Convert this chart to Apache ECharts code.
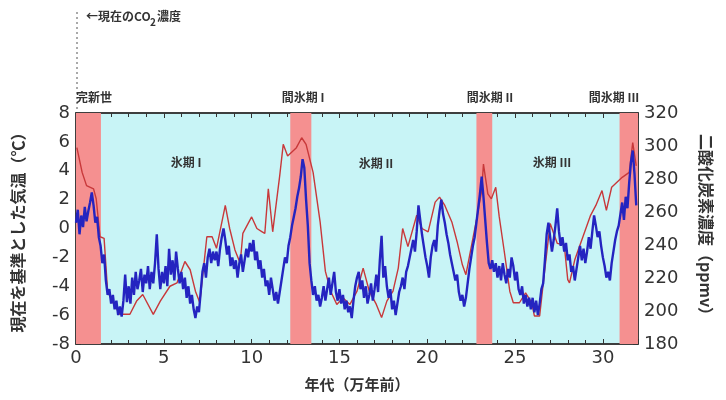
<!DOCTYPE html>
<html><head><meta charset="utf-8">
<script src="https://cdn.jsdelivr.net/npm/echarts@6/dist/echarts.min.js"></script>
<style>html,body{margin:0;padding:0;background:#fff}#c{width:726px;height:400px}</style>
</head><body><div id="c"></div>
<script>
// Temperature anomaly (°C), sampled every 0.1 (万年前) from 0.0 to 31.9
const ageStep = 0.1;
const tempValues = [
 0.4, 1.3, -0.4, 0.9, 0.1, 1.5, 0.5, 1.2, 1.8, 2.5,
 1.6, 0.4, 0.8, -0.6, -1.2, -2.4, -1.8, -3.6, -4.6, -4.2,
 -5.2, -4.6, -5.6, -5.0, -6.0, -5.4, -6.1, -5.0, -3.2, -5.1,
 -4.0, -5.2, -3.4, -4.6, -3.0, -4.2, -3.6, -2.8, -4.4, -3.2,
 -3.8, -2.6, -4.2, -3.0, -3.8, -2.4, -0.4, -2.8, -4.2, -3.0,
 -3.8, -2.6, -4.0, -1.4, -3.2, -2.2, -3.6, -1.6, -2.8, -3.8,
 -3.0, -4.2, -3.4, -4.8, -4.0, -5.2, -4.6, -5.6, -6.2, -5.4,
 -5.8, -4.4, -3.0, -2.4, -3.4, -2.0, -1.4, -2.4, -1.6, -2.2,
 -1.6, -2.6, -1.4, -0.6, 0.0, -0.8, -1.8, -1.2, -2.6, -2.0,
 -2.8, -2.2, -3.4, -2.4, -1.8, -3.0, -2.2, -1.4, -2.0, -1.0,
 -1.6, -0.8, -2.2, -1.6, -2.8, -2.2, -3.4, -2.8, -4.0, -3.6,
 -4.6, -3.4, -4.2, -5.0, -4.4, -5.2, -4.4, -3.6, -2.8, -2.0,
 -2.4, -1.2, -0.6, 0.2, 0.8, 1.4, 2.2, 2.8, 3.6, 4.8,
 4.2, 2.0, 0.2, -2.4, -3.6, -4.6, -4.0, -5.0, -4.6, -5.4,
 -4.8, -4.0, -5.0, -4.2, -3.4, -4.6, -3.8, -3.0, -4.4, -5.0,
 -4.2, -5.2, -4.6, -5.6, -5.0, -5.8, -5.4, -6.2, -5.0, -4.0,
 -3.4, -3.0, -4.2, -3.6, -4.8, -4.0, -5.2, -4.6, -3.8, -5.0,
 -4.2, -3.2, -4.4, -2.2, -0.5, -3.4, -2.6, -4.0, -4.8, -4.2,
 -5.6, -5.0, -6.0, -5.2, -4.4, -4.0, -3.4, -4.2, -3.0, -2.6,
 -2.0, -1.4, -0.8, -1.6, -0.2, 1.6, 0.6, -0.4, -1.2, -2.0,
 -2.6, -3.4, -2.0, -1.2, -0.8, -1.6, 0.2, 1.2, 2.0, 1.0,
 0.4, -0.4, -1.0, -1.8, -2.4, -3.0, -3.6, -3.2, -4.4, -5.0,
 -4.6, -5.4, -4.8, -3.8, -2.8, -2.0, -1.2, -0.6, 0.4, 1.4,
 2.4, 3.6, 2.2, 0.6, -1.0, -2.4, -2.8, -2.2, -3.0, -2.4,
 -3.4, -2.6, -3.6, -2.4, -3.2, -3.8, -2.8, -3.4, -2.0, -2.6,
 -3.6, -3.0, -4.2, -4.6, -4.0, -5.2, -4.6, -5.4, -4.8, -5.6,
 -4.8, -5.8, -5.0, -6.0, -5.2, -4.2, -3.8, -2.2, -0.4, 0.4,
 -0.6, -1.6, -0.8, 0.2, 1.4, -0.2, -1.2, -0.6, -1.6, -1.0,
 -2.2, -1.8, -3.0, -2.6, -3.6, -2.8, -2.0, -1.2, -2.2, -1.4,
 -2.4, -1.6, -0.6, -1.4, -0.2, 0.9, 0.2, -0.6, -0.2, -1.2,
 -2.0, -2.6, -3.4, -3.0, -3.6, -2.4, -1.6, -0.8, -0.2, 0.2,
 1.0, 1.8, 0.6, 2.2, 1.4, 3.2, 4.6, 5.4, 3.8, 1.6
];
// CO2 concentration (ppmv)
const co2Ages = [0.05,0.35,0.6,1.0,1.15,1.37,1.6,1.8,2.1,2.5,3.07,3.45,3.8,4.4,4.8,5.35,5.75,6.2,6.5,6.8,7.05,7.45,7.75,8.0,8.5,8.75,9.05,9.35,9.5,10.0,10.3,10.6,10.75,10.95,11.2,11.6,11.8,12.05,12.55,12.85,13.1,13.5,13.9,14.2,14.5,14.85,15.2,15.6,16.0,16.35,16.7,17.1,17.4,17.7,18.05,18.35,18.6,18.9,19.4,19.7,20.05,20.45,20.7,21.0,21.4,21.7,22.0,22.2,22.4,22.8,23.1,23.2,23.45,23.65,23.9,24.1,24.4,24.7,24.9,25.25,25.6,25.95,26.1,26.4,26.7,27.0,27.4,27.8,28.0,28.1,28.4,28.9,29.3,29.6,29.95,30.2,30.5,31.1,31.5,31.7,31.9];
const co2Values = [299,284,276,274,268,245,244,212,205,198,198,206,210,198,206,215,217,230,225,212,205,245,245,238,264,250,237,229,247,257,250,248,247,274,248,282,301,294,299,305,301,284,254,224,212,204,208,204,212,226,212,204,196,206,212,226,250,239,258,250,248,266,269,264,254,242,228,222,233,255,273,289,271,268,275,257,235,212,205,205,211,205,197,197,226,253,241,240,219,217,231,246,258,264,273,261,275,281,284,302,288];
// Interglacial bands (万年前)
const bands = [[0, 1.42], [12.2, 13.4], [22.8, 23.7], [30.95, 32]];
const bandLabels = ['完新世', '間氷期 I', '間氷期 II', '間氷期 III'];
const glacialLabels = ['氷期 I', '氷期 II', '氷期 III'];

const tempData = tempValues.map((v, i) => [+(i * ageStep).toFixed(2), v]);
const co2Data = co2Ages.map((a, i) => [a, co2Values[i]]);

const JP = '"Noto Sans CJK JP", "DejaVu Sans", sans-serif';
const chart = echarts.init(document.getElementById('c'), null, {renderer: 'canvas'});
const G = {left: 76, right: 88, top: 113, bottom: 56};
const axisLine = {show: true, onZero: false, lineStyle: {color: '#333', width: 1.5}};
const tick = {show: true, inside: true, length: 5, lineStyle: {color: '#333'}};
const minor = (n) => ({show: true, splitNumber: n, length: 4, lineStyle: {color: '#333'}});
const lbl = (o) => Object.assign({fontSize: 18, color: '#333', fontFamily: '"DejaVu Sans"'}, o);
const titleStyle = {fontSize: 15, fontWeight: 'bold', color: '#333', fontFamily: JP};
chart.setOption({
  animation: false,
  grid: Object.assign({show: true, backgroundColor: '#c8f4f6', borderColor: '#333', borderWidth: 1.5}, G),
  xAxis: [{
    type: 'value', min: 0, max: 32, interval: 5,
    axisLine: axisLine, axisTick: tick, minorTick: minor(5),
    splitLine: {show: false},
    axisLabel: lbl({margin: 5, showMaxLabel: false}),
    name: '年代（万年前）', nameLocation: 'middle', nameGap: 33, nameTextStyle: titleStyle
  }, {
    type: 'value', min: 0, max: 32, interval: 5, position: 'top',
    axisLine: axisLine, axisTick: tick, minorTick: minor(5),
    splitLine: {show: false}, axisLabel: {show: false}
  }],
  yAxis: [{
    type: 'value', min: -8, max: 8, interval: 2,
    axisLine: axisLine, axisTick: tick,
    splitLine: {show: false},
    axisLabel: lbl({margin: 6}),
    name: '現在を基準とした気温（℃）', nameLocation: 'middle', nameGap: 50, nameRotate: 90,
    nameTextStyle: Object.assign({}, titleStyle, {fontSize: 16})
  }, {
    type: 'value', min: 180, max: 320, interval: 20, position: 'right',
    axisLine: axisLine, axisTick: tick, minorTick: minor(2),
    splitLine: {show: false},
    axisLabel: lbl({margin: 6}),
    name: '二酸化炭素濃度（ppmv）', nameLocation: 'middle', nameGap: 60, nameRotate: -90,
    nameTextStyle: Object.assign({}, titleStyle, {fontSize: 16})
  }],
  series: [{
    type: 'line', yAxisIndex: 1, data: co2Data, symbol: 'none', silent: true,
    lineStyle: {color: '#c8383a', width: 1.4}, z: 3,
    markArea: {
      silent: true, itemStyle: {color: '#f59090'},
      data: bands.map(b => [{xAxis: b[0]}, {xAxis: b[1]}])
    }
  }, {
    type: 'line', yAxisIndex: 0, data: tempData, symbol: 'none', silent: true,
    lineStyle: {color: '#2424c0', width: 2.4}, z: 4
  }],
  graphic: [
    {type: 'line', shape: {x1: 77, y1: 12, x2: 77, y2: 113}, style: {stroke: '#555', lineWidth: 1, lineDash: [2, 3]}},
    {type: 'text', left: 86, top: 10, style: {text: '←現在のCO', fontSize: 12, fontWeight: 'bold', fill: '#333', fontFamily: JP}},
    {type: 'text', left: 150, top: 17, style: {text: '2', fontSize: 10, fontWeight: 'bold', fill: '#333', fontFamily: JP}},
    {type: 'text', left: 157, top: 10, style: {text: '濃度', fontSize: 12, fontWeight: 'bold', fill: '#333', fontFamily: JP}},
    {type: 'text', x: 94, y: 97, style: {text: bandLabels[0], fontSize: 12, fontWeight: 'bold', fill: '#333', fontFamily: JP, align: 'center', verticalAlign: 'middle'}},
    {type: 'text', x: 303, y: 97, style: {text: bandLabels[1], fontSize: 12, fontWeight: 'bold', fill: '#333', fontFamily: JP, align: 'center', verticalAlign: 'middle'}},
    {type: 'text', x: 490, y: 97, style: {text: bandLabels[2], fontSize: 12, fontWeight: 'bold', fill: '#333', fontFamily: JP, align: 'center', verticalAlign: 'middle'}},
    {type: 'text', x: 614, y: 97, style: {text: bandLabels[3], fontSize: 12, fontWeight: 'bold', fill: '#333', fontFamily: JP, align: 'center', verticalAlign: 'middle'}},
    {type: 'text', x: 186, y: 162, style: {text: glacialLabels[0], fontSize: 12, fontWeight: 'bold', fill: '#333', fontFamily: JP, align: 'center', verticalAlign: 'middle'}},
    {type: 'text', x: 376, y: 163, style: {text: glacialLabels[1], fontSize: 12, fontWeight: 'bold', fill: '#333', fontFamily: JP, align: 'center', verticalAlign: 'middle'}},
    {type: 'text', x: 552, y: 162, style: {text: glacialLabels[2], fontSize: 12, fontWeight: 'bold', fill: '#333', fontFamily: JP, align: 'center', verticalAlign: 'middle'}}
  ]
});
</script></body></html>
